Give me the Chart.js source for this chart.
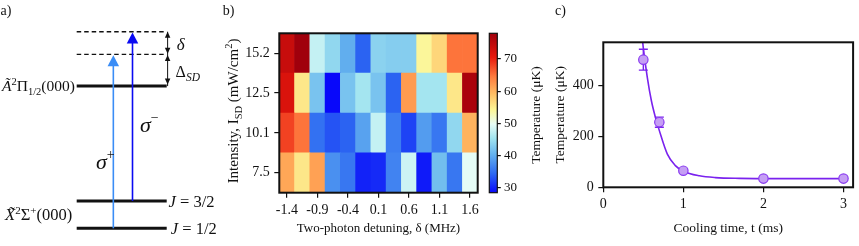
<!DOCTYPE html>
<html>
<head>
<meta charset="utf-8">
<script src="https://cdn.jsdelivr.net/npm/chart.js@4.4.1/dist/chart.umd.min.js"></script>
<style>
  html, body { margin: 0; padding: 0; background: #fff; }
  #wrap { position: relative; width: 859px; height: 246px; overflow: hidden; }
  canvas { position: absolute; top: 0; }
</style>
</head>
<body>
<div id="wrap">
  <canvas id="levels" width="220" height="246" style="left:0"></canvas>
  <canvas id="heat" width="262" height="246" style="left:222px"></canvas>
  <canvas id="cbar" width="70" height="246" style="left:484px"></canvas>
  <canvas id="cool" width="313" height="246" style="left:546px"></canvas>
</div>
<script>
// ============================================================
// Datos
// ============================================================

// a) esquema de niveles, energía en unidades arbitrarias (J=1/2 en cero)
const groundLevels  = [0, 1];        // J=1/2, J=3/2
const excitedLevel  = 5.21;          // A2Pi1/2(000)
const virtualLevels = [6.37, 7.2];   // niveles de dos fotones (punteados)
const pumpX     = [0.407, 0.62];     // sigma+, sigma-
const pumpFrom  = [0, 1];
const pumpTo    = [6.37, 7.2];
const bracketX  = 1.01;

// b) mapa de temperatura
const detuning  = [-1.4, -1.15, -0.9, -0.65, -0.4, -0.15, 0.1, 0.35, 0.6, 0.85, 1.1, 1.35, 1.6];
const intensity = [7.5, 10.1, 12.5, 15.2];
const temp7p5   = [61, 55.5, 61.5, 37.5, 35.5, 30, 30.5, 36.5, 48, 29.5, 41.5, 35.5, 49.5];
const temp10p1  = [68, 65, 35, 33, 34, 39, 47.5, 36, 32, 38.5, 35.5, 44, 60];
const temp12p5  = [72, 55.5, 42, 28.4, 42, 45.5, 42, 34, 62, 45.5, 45.5, 55.5, 77];
const temp15p2  = [74, 78, 47.5, 44, 40, 34, 43.5, 43, 43, 54, 57, 65, 65];
const cbarTicks = [30, 40, 50, 60, 70];

// c) tiempo de enfriamiento
const coolTime = [0.5, 0.7, 1, 2, 3];
const coolTemp = [500, 255, 65, 34, 34];
const coolErr  = [41, 20, 6, 3, 3];
const fitTime  = [0.49, 0.5, 0.55, 0.6, 0.65, 0.7, 0.8, 0.9, 1.0, 1.2, 1.4, 1.7, 2.2, 3.0];
const fitTemp  = [575, 545, 430, 340, 275, 222, 130, 85, 63, 45, 38, 35, 34, 34];
const coolXTicks = [0, 1, 2, 3];
const coolYTicks = [0, 200, 400];

// ============================================================
// Estilo
// ============================================================
const SERIF  = "'Liberation Serif', 'Times New Roman', serif";
const INK    = '#111';
const PURPLE = '#7a22ee';
const pumpColors = ['#3a8df6', '#0a0af2'];

Chart.defaults.font.family = SERIF;
Chart.defaults.font.size = 14;
Chart.defaults.color = INK;
Chart.defaults.plugins.legend.display = false;
Chart.defaults.plugins.tooltip.enabled = false;

const tempRows = [temp7p5, temp10p1, temp12p5, temp15p2];
const allTemps = tempRows.flat();
const tMin = Math.min(...allTemps);
const tMax = Math.max(...allTemps);

// mapa de color azul -> blanco -> amarillo -> rojo
const cmap = [
  [0.00,   8,   8, 250],
  [0.12,  45, 105, 242],
  [0.24, 100, 178, 238],
  [0.34, 160, 228, 240],
  [0.43, 232, 253, 246],
  [0.52, 252, 246, 150],
  [0.62, 255, 190, 100],
  [0.73, 255, 122,  62],
  [0.85, 232,  24,  12],
  [1.00, 160,   0,  12]
];
function cmapColor(v) {
  const t = Math.min(1, Math.max(0, (v - tMin) / (tMax - tMin)));
  for (let i = 1; i < cmap.length; i++) {
    if (t <= cmap[i][0]) {
      const a = cmap[i - 1], b = cmap[i];
      const f = (t - a[0]) / (b[0] - a[0]);
      const c = [1, 2, 3].map(k => Math.round(a[k] + f * (b[k] - a[k])));
      return `rgb(${c[0]},${c[1]},${c[2]})`;
    }
  }
  return 'rgb(160,0,12)';
}

function tickMarks(len) {
  return { drawOnChartArea: false, drawTicks: true, tickLength: len, color: INK, lineWidth: 1.2 };
}

// texto con sub/superíndices: partes = [texto, tamaño, itálica, subida]
function drawRich(ctx, parts, x, y, align) {
  const fontOf = p => (p[2] ? 'italic ' : '') + p[1] + 'px ' + SERIF;
  let width = 0;
  parts.forEach(p => { ctx.font = fontOf(p); width += ctx.measureText(p[0]).width; });
  let cx = align === 'right' ? x - width : align === 'center' ? x - width / 2 : x;
  ctx.textAlign = 'left';
  ctx.textBaseline = 'alphabetic';
  ctx.fillStyle = INK;
  parts.forEach(p => {
    ctx.font = fontOf(p);
    ctx.fillText(p[0], cx, y - (p[3] || 0));
    cx += ctx.measureText(p[0]).width;
  });
}

function arrowHead(ctx, x, tipY, w, h, dir, color) {
  // dir -1: apunta hacia arriba, 1: hacia abajo
  ctx.beginPath();
  ctx.moveTo(x, tipY);
  ctx.lineTo(x - w / 2, tipY - dir * h);
  ctx.lineTo(x + w / 2, tipY - dir * h);
  ctx.closePath();
  ctx.fillStyle = color;
  ctx.fill();
}

function framePlugin(lw) {
  return {
    id: 'frame',
    afterDatasetsDraw(chart) {
      const { ctx, chartArea: a } = chart;
      ctx.save();
      ctx.strokeStyle = INK;
      ctx.lineWidth = lw;
      ctx.strokeRect(a.left, a.top, a.width, a.height);
      ctx.restore();
    }
  };
}

function panelLabel(ctx, text, x) {
  ctx.save();
  ctx.font = '14px ' + SERIF;
  ctx.fillStyle = INK;
  ctx.textAlign = 'left';
  ctx.textBaseline = 'alphabetic';
  ctx.fillText(text, x, 15);
  ctx.restore();
}

// ============================================================
// a) Esquema de niveles
// ============================================================
const lineSet = (pts, color, width, extra) => Object.assign({
  data: pts, showLine: true, pointRadius: 0, borderColor: color, borderWidth: width, borderCapStyle: 'butt'
}, extra || {});

const levelSets = [
  ...groundLevels.concat([excitedLevel]).map(e =>
    lineSet([{ x: 0, y: e }, { x: 1, y: e }], INK, 3, { order: 2 })),
  ...virtualLevels.map(e =>
    lineSet([{ x: 0, y: e }, { x: 1, y: e }], INK, 1.3, { borderDash: [4.5, 3], order: 2 })),
  ...pumpX.map((xv, i) =>
    lineSet([{ x: xv, y: pumpFrom[i] }, { x: xv, y: pumpTo[i] - 0.2 }], pumpColors[i], 1.6, { order: 0 })),
  lineSet([{ x: bracketX, y: excitedLevel }, { x: bracketX, y: virtualLevels[1] }], INK, 1, { order: 1 })
];

const levelDecor = {
  id: 'levelDecor',
  afterDatasetsDraw(chart) {
    const { ctx, scales: { x, y } } = chart;
    const px = v => x.getPixelForValue(v);
    const py = v => y.getPixelForValue(v);
    ctx.save();

    pumpX.forEach((xv, i) => arrowHead(ctx, px(xv), py(pumpTo[i]) + 0.8, 11.5, 11, -1, pumpColors[i]));

    const bx = px(bracketX);
    arrowHead(ctx, bx, py(virtualLevels[1]), 5.5, 6, -1, INK);
    arrowHead(ctx, bx, py(virtualLevels[0]) - 0.6, 5.5, 6, 1, INK);
    arrowHead(ctx, bx, py(virtualLevels[0]) + 0.6, 5.5, 6, -1, INK);
    arrowHead(ctx, bx, py(excitedLevel) - 1.5, 5.5, 6, 1, INK);

    drawRich(ctx, [['Ã', 15.5, true], ['2', 10.5, false, 6], ['Π', 15.5], ['1/2', 10.5, false, -3.5], ['(000)', 15.5]],
      px(-0.02), py(excitedLevel) + 5, 'right');
    drawRich(ctx, [['X\u0303', 16.5, true], ['2', 11, false, 6.5], ['Σ', 16.5], ['+', 11, false, 6.5], ['(000)', 16.5]],
      px(-0.05), py(0.49) + 5.5, 'right');
    drawRich(ctx, [['J', 16.5, true], [' = 3/2', 16.5]], px(1.02), py(groundLevels[1]) + 5.5, 'left');
    drawRich(ctx, [['J', 16.5, true], [' = 1/2', 16.5]], px(1.045), py(groundLevels[0]) + 5.5, 'left');

    drawRich(ctx, [['σ', 22, true], ['+', 14, false, 10]], px(0.214), py(2.32) + 4, 'left');
    drawRich(ctx, [['σ', 22, true], ['−', 14, false, 10]], px(0.703), py(3.69) + 4, 'left');
    drawRich(ctx, [['δ', 17, true]], px(1.111), py(6.73) + 5, 'left');
    drawRich(ctx, [['Δ', 16], ['SD', 11.5, true, -4]], px(1.099), py(5.73) + 5.5, 'left');

    panelLabel(ctx, 'a)', 0.5);
    ctx.restore();
  }
};

new Chart(document.getElementById('levels'), {
  type: 'scatter',
  data: { datasets: levelSets },
  options: {
    responsive: false, animation: false, devicePixelRatio: 1,
    layout: { padding: 0 },
    scales: {
      x: { type: 'linear', display: false, min: -0.852, max: 1.592 },
      y: { type: 'linear', display: false, min: -0.648, max: 8.363 }
    }
  },
  plugins: [levelDecor]
});

// ============================================================
// b) Mapa de calor
// ============================================================
const fmtDet = v => String(+v.toFixed(2));

const heatDecor = {
  id: 'heatDecor',
  afterDraw(chart) {
    const { ctx, chartArea: a } = chart;
    ctx.save();
    ctx.translate(11.3, (a.top + a.bottom) / 2 - 2);
    ctx.rotate(-Math.PI / 2);
    drawRich(ctx, [['Intensity, I', 15], ['SD', 10.5, false, -3.5], [' (mW/cm', 15], ['2', 10.5, false, 6], [')', 15]],
      0, 5, 'center');
    ctx.restore();
    panelLabel(chart.ctx, 'b)', 0.7);
  }
};

new Chart(document.getElementById('heat'), {
  type: 'bar',
  data: {
    labels: detuning.map(fmtDet),
    datasets: tempRows.map((row, r) => ({
      data: row.map(() => [r, r + 1]),
      backgroundColor: row.map(cmapColor),
      borderWidth: 0,
      grouped: false,
      categoryPercentage: 1,
      barPercentage: 1
    }))
  },
  options: {
    responsive: false, animation: false, devicePixelRatio: 1,
    layout: { padding: { left: 0, right: 6.3, top: 33.3, bottom: 0 } },
    scales: {
      x: {
        type: 'category', offset: true,
        grid: Object.assign(tickMarks(5), { offset: false }),
        border: { display: false },
        afterBuildTicks: s => { s.ticks = s.ticks.filter(t => t.value % 2 === 0); },
        ticks: { autoSkip: false, maxRotation: 0, padding: 4, callback: v => fmtDet(detuning[v]) },
        title: { display: true, text: 'Two-photon detuning, δ (MHz)', font: { size: 13 }, padding: { bottom: 9.2 } },
        afterFit: s => { s.height = 53.3; }
      },
      y: {
        type: 'linear', min: 0, max: intensity.length,
        grid: tickMarks(5),
        border: { display: false },
        afterBuildTicks: s => { s.ticks = intensity.map((v, i) => ({ value: i + 0.5 })); },
        ticks: { padding: 4.5, callback: v => intensity[Math.floor(v)].toFixed(1) },
        afterFit: s => { s.width = 57.3; }
      }
    }
  },
  plugins: [framePlugin(2), heatDecor]
});

// ============================================================
// b) Barra de color
// ============================================================
const cbarDecor = {
  id: 'cbarDecor',
  beforeDatasetsDraw(chart) {
    const { ctx, chartArea: a, scales: { y } } = chart;
    const g = ctx.createLinearGradient(0, y.getPixelForValue(tMin), 0, y.getPixelForValue(tMax));
    cmap.forEach(s => g.addColorStop(s[0], `rgb(${s[1]},${s[2]},${s[3]})`));
    ctx.save();
    ctx.fillStyle = g;
    ctx.fillRect(a.left, a.top, a.width, a.height);
    ctx.restore();
  },
  afterDraw(chart) {
    const { ctx } = chart;
    ctx.save();
    ctx.translate(51, 115);
    ctx.rotate(-Math.PI / 2);
    drawRich(ctx, [['Temperature (μK)', 13.5]], 0, 4.5, 'center');
    ctx.restore();
  }
};

new Chart(document.getElementById('cbar'), {
  type: 'scatter',
  data: { datasets: [{ data: [] }] },
  options: {
    responsive: false, animation: false, devicePixelRatio: 1,
    layout: { padding: { left: 5.3, right: 0, top: 33.3, bottom: 53.3 } },
    scales: {
      x: { display: false, min: 0, max: 1 },
      y: {
        position: 'right', min: tMin, max: tMax,
        grid: tickMarks(3.5),
        border: { display: false },
        afterBuildTicks: s => { s.ticks = cbarTicks.map(v => ({ value: v })); },
        ticks: { padding: 3.2, font: { size: 13 } },
        afterFit: s => { s.width = 56.7; }
      }
    }
  },
  plugins: [cbarDecor, framePlugin(1.2)]
});

// ============================================================
// c) Temperatura vs tiempo de enfriamiento
// ============================================================
const errorBars = {
  id: 'errorBars',
  beforeDatasetsDraw(chart) {
    const { ctx, scales: { x, y } } = chart;
    ctx.save();
    ctx.strokeStyle = PURPLE;
    ctx.lineWidth = 1.4;
    coolTime.forEach((t, i) => {
      const cx = x.getPixelForValue(t);
      const lo = y.getPixelForValue(coolTemp[i] - coolErr[i]);
      const hi = y.getPixelForValue(coolTemp[i] + coolErr[i]);
      ctx.beginPath();
      ctx.moveTo(cx, lo); ctx.lineTo(cx, hi);
      ctx.moveTo(cx - 4.5, lo); ctx.lineTo(cx + 4.5, lo);
      ctx.moveTo(cx - 4.5, hi); ctx.lineTo(cx + 4.5, hi);
      ctx.stroke();
    });
    ctx.restore();
  },
  afterDraw(chart) {
    panelLabel(chart.ctx, 'c)', 9);
  }
};

new Chart(document.getElementById('cool'), {
  type: 'scatter',
  data: {
    datasets: [
      {
        data: coolTime.map((t, i) => ({ x: t, y: coolTemp[i] })),
        pointRadius: 4.7, backgroundColor: '#c59ef4', borderColor: '#8a3cf0', borderWidth: 1.2,
        order: 0
      },
      {
        data: fitTime.map((t, i) => ({ x: t, y: fitTemp[i] })),
        showLine: true, pointRadius: 0, borderColor: PURPLE, borderWidth: 1.6,
        cubicInterpolationMode: 'monotone',
        order: 1
      }
    ]
  },
  options: {
    responsive: false, animation: false, devicePixelRatio: 1,
    layout: { padding: { left: 0, right: 2.3, top: 42.3, bottom: 0 } },
    scales: {
      x: {
        type: 'linear', min: 0, max: 3.12,
        grid: tickMarks(5),
        border: { display: false },
        afterBuildTicks: s => { s.ticks = coolXTicks.map(v => ({ value: v })); },
        ticks: { padding: 4 },
        title: { display: true, text: 'Cooling time, t (ms)', font: { size: 13.5 }, padding: { bottom: 9.6 } },
        afterFit: s => { s.height = 58.7; }
      },
      y: {
        type: 'linear', min: 0, max: 568,
        grid: tickMarks(5),
        border: { display: false },
        afterBuildTicks: s => { s.ticks = coolYTicks.map(v => ({ value: v })); },
        ticks: { padding: 4.5 },
        title: { display: true, text: 'Temperature (μK)', font: { size: 13.5 }, padding: { top: 6.4 } },
        afterFit: s => { s.width = 57.3; }
      }
    }
  },
  plugins: [errorBars, framePlugin(2)]
});
</script>
</body>
</html>
